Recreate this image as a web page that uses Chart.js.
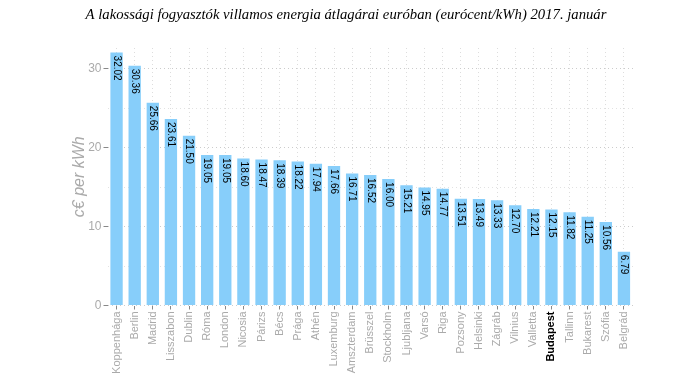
<!DOCTYPE html>
<html>
<head>
<meta charset="utf-8">
<script src="https://cdn.jsdelivr.net/npm/chart.js@4/dist/chart.umd.min.js"></script>
<style>
  html, body { margin: 0; padding: 0; background: #fff; }
  #wrap { width: 696px; height: 375px; position: relative; }
</style>
</head>
<body>
<div id="wrap"><canvas id="c" width="696" height="375"></canvas></div>
<script>
const chartTitle = "A lakossági fogyasztók villamos energia átlagárai euróban (eurócent/kWh) 2017. január";
const yTitle = "c€ per kWh";
const cities = [
  "Koppenhága", "Berlin", "Madrid", "Lisszabon", "Dublin", "Róma", "London",
  "Nicosia", "Párizs", "Bécs", "Prága", "Athén", "Luxemburg", "Amszterdam",
  "Brüsszel", "Stockholm", "Ljubljana", "Varsó", "Riga", "Pozsony", "Helsinki",
  "Zágráb", "Vilnius", "Valletta", "Budapest", "Tallinn", "Bukarest", "Szófia", "Belgrád"
];
const prices = [
  32.02, 30.36, 25.66, 23.61, 21.50, 19.05, 19.05, 18.60, 18.47, 18.39,
  18.22, 17.94, 17.66, 16.71, 16.52, 16.00, 15.21, 14.95, 14.77, 13.51,
  13.49, 13.33, 12.70, 12.21, 12.15, 11.82, 11.25, 10.56, 6.79
];
const yTicks = [0, 10, 20, 30];
const yGrid = [0, 5, 10, 15, 20, 25, 30];
const highlight = "Budapest";

const GREY = "#aaaaaa";

// title, y axis title and the value labels inside the bars
const extras = {
  id: "extras",
  afterDatasetsDraw(chart) {
    const { ctx } = chart;
    const meta = chart.getDatasetMeta(0);
    ctx.save();
    ctx.fillStyle = "#000";
    ctx.font = "10px 'Liberation Sans', Arial, sans-serif";
    ctx.textAlign = "left";
    ctx.textBaseline = "middle";
    meta.data.forEach((bar, i) => {
      ctx.save();
      ctx.translate(bar.x, bar.y + 3);
      ctx.rotate(Math.PI / 2);
      ctx.fillText(prices[i].toFixed(2), 0, 0);
      ctx.restore();
    });
    ctx.restore();
  },
  afterDraw(chart) {
    const { ctx, chartArea } = chart;
    ctx.save();
    ctx.fillStyle = "#000";
    ctx.font = "italic 14.7px 'Liberation Serif', 'Times New Roman', serif";
    ctx.textAlign = "center";
    ctx.textBaseline = "alphabetic";
    ctx.fillText(chartTitle, 346, 19);

    ctx.fillStyle = GREY;
    ctx.font = "italic 16px 'Liberation Sans', Arial, sans-serif";
    ctx.translate(80, (chartArea.top + chartArea.bottom) / 2);
    ctx.rotate(-Math.PI / 2);
    ctx.textBaseline = "middle";
    ctx.fillText(yTitle, 0, 0);
    ctx.restore();
  }
};

new Chart(document.getElementById("c"), {
  type: "bar",
  data: {
    labels: cities,
    datasets: [{
      data: prices,
      backgroundColor: "#87cefa",
      barPercentage: 0.68,
      categoryPercentage: 1
    }]
  },
  options: {
    responsive: false,
    animation: false,
    layout: { padding: { left: 0, right: 63, top: 48, bottom: 0 } },
    plugins: { legend: { display: false }, tooltip: { enabled: false } },
    scales: {
      x: {
        afterFit(s) { s.height = 69.5; },
        grid: {
          offset: false,
          color: "#dddddd",
          tickColor: "#888888",
          tickLength: 4,
          lineWidth: 1
        },
        border: { display: false, dash: [1, 3] },
        ticks: {
          autoSkip: false,
          maxRotation: 90,
          minRotation: 90,
          padding: 2,
          color: (c) => (cities[c.index] === highlight ? "#000" : GREY),
          font: (c) => ({
            family: "'Liberation Sans', Arial, sans-serif",
            size: 11,
            weight: cities[c.index] === highlight ? "bold" : "normal"
          })
        }
      },
      y: {
        min: 0,
        max: 32.6,
        afterFit(s) { s.width = 107.5; },
        afterBuildTicks(s) {
          s.ticks = yGrid.map((v) => ({ value: v }));
        },
        grid: {
          color: (c) => (yTicks.includes(c.tick.value) ? "#cccccc" : "#e2e2e2"),
          tickColor: (c) => (yTicks.includes(c.tick.value) ? "#888888" : "rgba(0,0,0,0)"),
          tickLength: 4,
          lineWidth: 1
        },
        border: { display: false, dash: [1, 3] },
        ticks: {
          padding: 2,
          color: GREY,
          font: { family: "'Liberation Sans', Arial, sans-serif", size: 12 },
          callback: (v) => (yTicks.includes(v) ? String(v) : "")
        }
      }
    }
  },
  plugins: [extras]
});
</script>
</body>
</html>
